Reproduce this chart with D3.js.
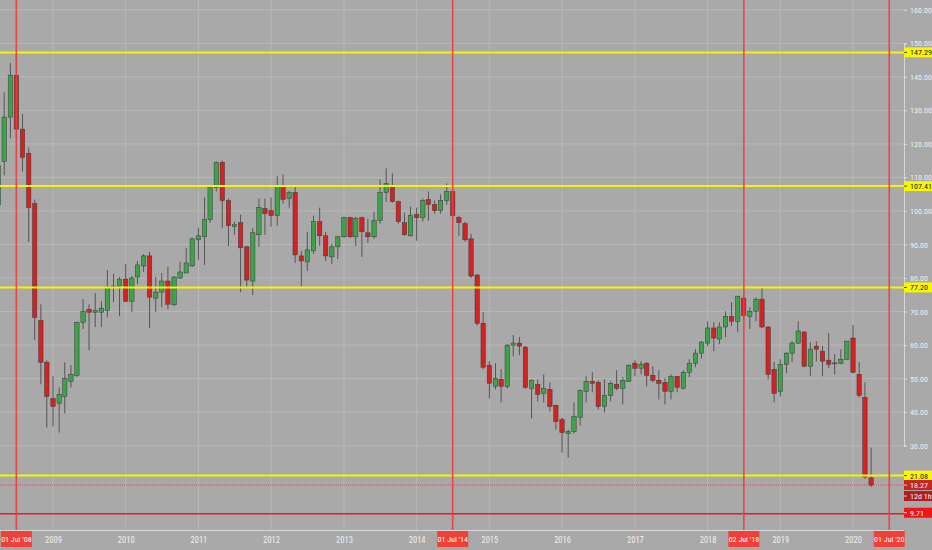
<!DOCTYPE html>
<html><head><meta charset="utf-8">
<script src="https://cdn.jsdelivr.net/npm/d3@7"></script>
<style>
html,body{margin:0;padding:0;background:#a9a9a9;overflow:hidden}
text{font-family:'Liberation Sans Narrow','Roboto Condensed',Roboto,sans-serif}
</style>
</head><body>
<svg id="chart" width="932" height="550"></svg>
<script>
// ---- data (monthly candles) ----
const months = [
"2008-04","2008-05","2008-06","2008-07","2008-08","2008-09","2008-10","2008-11","2008-12",
"2009-01","2009-02","2009-03","2009-04","2009-05","2009-06","2009-07","2009-08","2009-09","2009-10","2009-11","2009-12",
"2010-01","2010-02","2010-03","2010-04","2010-05","2010-06","2010-07","2010-08","2010-09","2010-10","2010-11","2010-12",
"2011-01","2011-02","2011-03","2011-04","2011-05","2011-06","2011-07","2011-08","2011-09","2011-10","2011-11","2011-12",
"2012-01","2012-02","2012-03","2012-04","2012-05","2012-06","2012-07","2012-08","2012-09","2012-10","2012-11","2012-12",
"2013-01","2013-02","2013-03","2013-04","2013-05","2013-06","2013-07","2013-08","2013-09","2013-10","2013-11","2013-12",
"2014-01","2014-02","2014-03","2014-04","2014-05","2014-06","2014-07","2014-08","2014-09","2014-10","2014-11","2014-12",
"2015-01","2015-02","2015-03","2015-04","2015-05","2015-06","2015-07","2015-08","2015-09","2015-10","2015-11","2015-12",
"2016-01","2016-02","2016-03","2016-04","2016-05","2016-06","2016-07","2016-08","2016-09","2016-10","2016-11","2016-12",
"2017-01","2017-02","2017-03","2017-04","2017-05","2017-06","2017-07","2017-08","2017-09","2017-10","2017-11","2017-12",
"2018-01","2018-02","2018-03","2018-04","2018-05","2018-06","2018-07","2018-08","2018-09","2018-10","2018-11","2018-12",
"2019-01","2019-02","2019-03","2019-04","2019-05","2019-06","2019-07","2019-08","2019-09","2019-10","2019-11","2019-12",
"2020-01","2020-02","2020-03","2020-04"];
const opens = [
101.8,114.8,128.0,140.5,124.4,117.2,102.2,67.4,54.9,
44.1,42.6,44.7,49.2,51.0,66.8,70.7,69.8,69.8,70.4,77.3,77.6,
79.7,73.1,80.3,83.6,86.6,74.0,75.8,79.1,72.0,80.0,81.5,83.6,
91.4,92.3,97.4,107.0,114.5,103.1,95.3,96.5,89.3,79.1,92.9,100.7,
100.1,98.6,107.3,103.7,105.5,86.6,84.8,88.1,96.8,92.6,86.3,89.3,
92.3,98.0,92.3,98.0,93.5,92.3,97.1,105.5,107.6,102.8,96.5,92.6,
98.9,98.0,103.4,101.9,100.1,103.1,105.8,98.0,96.2,91.7,80.9,66.5,
54.0,47.7,49.8,47.7,60.0,60.6,59.4,47.1,48.3,45.6,46.8,42.0,
37.8,33.6,34.2,38.4,46.2,49.2,48.9,41.7,45.0,48.3,47.1,49.2,
54.6,53.1,54.6,51.0,49.5,48.9,46.2,50.7,47.1,51.9,54.6,57.6,
60.6,65.1,61.8,65.4,68.6,67.1,74.0,68.6,70.1,73.7,65.4,52.8,
46.2,54.3,57.6,60.6,63.9,53.7,59.7,58.2,55.5,54.5,54.6,55.8,
62.1,51.3,44.4,20.4];
const highs = [
117.5,135.4,144.1,147.3,128.9,119.0,103.4,72.2,55.5,
50.7,47.4,54.9,54.0,67.0,73.7,72.2,75.5,73.1,82.4,81.2,80.3,
84.2,80.6,85.1,87.2,87.8,80.3,81.5,83.3,80.6,84.8,89.0,92.0,
95.0,104.0,107.3,114.8,115.0,103.7,96.8,98.9,89.6,95.0,103.7,103.7,
104.0,110.3,110.9,106.0,107.3,88.1,93.8,98.6,101.0,93.8,90.2,92.6,
98.3,98.3,98.3,98.3,97.7,99.8,109.4,112.7,111.2,103.1,99.5,101.3,
101.0,103.7,105.8,103.1,104.9,108.2,106.5,98.6,96.8,93.2,81.2,69.8,
55.2,54.6,52.8,60.3,63.0,62.4,59.7,49.8,49.8,51.3,48.9,42.3,
38.4,34.8,42.9,46.8,50.7,51.9,49.5,49.8,49.2,52.5,50.4,54.3,
55.5,55.2,54.9,53.7,52.5,50.1,51.3,50.7,52.5,55.8,58.8,61.2,
67.1,66.8,66.8,70.1,72.8,74.6,75.2,71.3,74.2,77.3,65.7,54.9,
55.8,57.9,61.2,67.1,64.2,60.9,61.2,59.7,63.6,57.3,58.8,61.2,
66.0,54.9,48.9,29.4];
const lows = [
100.5,110.6,121.7,121.5,111.8,90.8,61.5,48.3,35.4,
35.7,33.9,39.6,47.4,50.5,64.8,58.5,65.4,65.4,68.3,72.8,68.6,
72.8,69.8,78.2,81.8,65.0,69.8,71.3,70.7,71.6,79.7,81.5,83.3,
85.4,83.9,96.5,105.8,95.0,89.6,92.9,75.8,77.3,74.9,89.3,92.9,
95.3,95.6,102.2,101.0,84.5,77.5,82.1,87.2,89.6,85.1,84.2,85.7,
92.0,92.0,89.6,86.3,90.5,91.7,96.2,102.8,102.5,96.2,92.6,92.3,
91.1,96.8,97.1,99.2,99.2,101.9,97.7,92.6,90.8,80.0,65.8,52.8,
44.1,46.8,42.9,47.1,56.7,57.0,47.0,38.1,43.2,42.9,40.2,34.8,
27.9,26.4,33.6,36.0,42.9,45.9,40.8,39.9,43.2,46.5,42.3,49.0,
50.7,51.3,47.7,48.9,43.8,42.3,43.8,45.9,46.8,50.4,53.4,56.0,
59.7,58.2,60.3,62.4,65.7,63.9,67.5,64.8,67.1,65.1,49.8,42.9,
44.7,51.6,54.9,60.3,53.4,50.7,55.2,50.7,53.1,51.3,54.3,55.5,
51.6,44.4,20.1,17.7];
const closes = [
113.5,128.0,140.5,124.4,116.0,101.0,68.3,54.9,44.7,
41.7,45.3,50.1,51.3,66.8,70.1,69.8,70.4,71.0,77.3,77.6,79.7,
73.1,80.0,83.9,86.6,74.3,75.8,79.1,72.2,80.3,81.8,84.5,91.7,
92.6,97.4,107.0,114.5,103.1,95.6,95.9,89.0,79.4,93.5,101.0,99.2,
98.6,107.6,103.4,105.5,86.9,85.1,88.4,96.8,92.6,86.6,89.3,92.3,
98.0,92.3,97.7,93.8,92.3,97.1,105.5,108.2,102.8,96.8,92.9,98.6,
98.0,103.1,101.9,100.1,103.1,105.8,98.6,96.5,91.4,80.6,66.5,53.4,
48.6,50.1,47.7,60.0,60.6,59.7,47.4,49.5,45.3,47.1,41.7,37.2,
33.9,34.2,38.7,46.5,49.2,48.6,41.7,45.0,48.6,47.1,49.5,54.0,
53.1,54.3,51.0,49.5,48.6,46.2,50.7,47.4,51.9,54.6,57.6,60.9,
65.1,62.1,65.4,68.6,67.1,74.6,68.9,70.1,73.7,65.4,51.3,45.6,
54.3,57.6,60.6,64.2,53.7,58.8,58.8,55.2,54.3,54.7,55.8,61.2,
51.9,45.0,20.7,18.27];

const priceTicks = [30,40,50,60,70,80,90,100,110,120,130,140,150,160];
const yellowLevels = [147.29, 107.41, 77.20, 21.08];
const redLevel = 9.71;
const lastPrice = 18.27;
const countdownLabel = "12d 1h";
const markerDates = ["2008-07-01","2014-07-01","2018-07-02","2020-07-01"];
const markerLabels = ["01 Jul '08","01 Jul '14","02 Jul '18","01 Jul '20"];

// ---- layout ----
const W = 932, H = 550, plotR = 904, plotB = 530;
const parse = d3.timeParse("%Y-%m");
const parseD = d3.timeParse("%Y-%m-%d");
const svg = d3.select("#chart");

const x = d3.scaleTime()
  .domain([new Date(2009,0,1), new Date(2020,0,1)])
  .range([53, 853]);
const y = d3.scaleLinear().domain([30,150]).range([445.7, 43.3]);

svg.append("rect").attr("width",W).attr("height",H).attr("fill","#a9a9a9");

const candles = months.map((m,i)=>({d:parse(m),o:opens[i],h:highs[i],l:lows[i],c:closes[i]}));

// grid
const years = d3.timeYear.range(new Date(2009,0,1), new Date(2020,0,2));
svg.append("g").selectAll("line").data(years).join("line")
  .attr("x1",d=>x(d)).attr("x2",d=>x(d)).attr("y1",0).attr("y2",plotB)
  .attr("stroke","#b8b8b8").attr("stroke-width",1);
svg.append("g").selectAll("line").data(priceTicks).join("line")
  .attr("x1",0).attr("x2",plotR).attr("y1",d=>y(d)).attr("y2",d=>y(d))
  .attr("stroke","#b8b8b8").attr("stroke-width",1);

svg.append("defs").append("clipPath").attr("id","clip")
  .append("rect").attr("x",0).attr("y",0).attr("width",plotR).attr("height",plotB);

// candles
const cg = svg.append("g").attr("clip-path","url(#clip)");
const bw = 4.4;
cg.selectAll("line.w").data(candles).join("line").attr("class","w")
  .attr("x1",d=>x(d.d)).attr("x2",d=>x(d.d))
  .attr("y1",d=>y(d.h)).attr("y2",d=>y(d.l))
  .attr("stroke","#555").attr("stroke-width",1);
cg.selectAll("rect.b").data(candles).join("rect").attr("class","b")
  .attr("x",d=>x(d.d)-bw/2).attr("width",bw)
  .attr("y",d=>y(Math.max(d.o,d.c)))
  .attr("height",d=>Math.max(1,Math.abs(y(d.o)-y(d.c))))
  .attr("fill",d=>d.c>=d.o?"#3da34b":"#d42222")
  .attr("stroke","#3a3a3a").attr("stroke-width",0.5);

// current price line
svg.append("line").attr("x1",0).attr("x2",plotR)
  .attr("y1",y(lastPrice)).attr("y2",y(lastPrice))
  .attr("stroke","#c03030").attr("stroke-width",0.8).attr("stroke-dasharray","1,1").attr("opacity",0.8);

// horizontal levels
svg.append("g").selectAll("line").data(yellowLevels).join("line")
  .attr("x1",0).attr("x2",plotR).attr("y1",d=>y(d)).attr("y2",d=>y(d))
  .attr("stroke","#f5f500").attr("stroke-width",2);
svg.append("line").attr("x1",0).attr("x2",plotR)
  .attr("y1",y(redLevel)).attr("y2",y(redLevel))
  .attr("stroke","#f01818").attr("stroke-width",1.6);

// vertical red markers
svg.append("g").selectAll("line").data(markerDates).join("line")
  .attr("x1",d=>x(parseD(d))).attr("x2",d=>x(parseD(d)))
  .attr("y1",0).attr("y2",plotB+4)
  .attr("stroke","#f23c3c").attr("stroke-width",1.6).attr("opacity",0.9);

// axes
const ya = svg.append("g").attr("transform",`translate(${plotR},0)`)
  .call(d3.axisRight(y).tickValues(priceTicks).tickFormat(d3.format(".2f")).tickSize(3).tickPadding(3));
ya.select(".domain").attr("stroke","#d6d6d6");
ya.selectAll(".tick line").attr("stroke","#e0e0e0");
ya.selectAll("text").attr("fill","#f0f0f0").attr("font-size",8);

const xa = svg.append("g").attr("transform",`translate(0,${plotB})`)
  .call(d3.axisBottom(x).tickValues(years).tickFormat(d3.timeFormat("%Y")).tickSize(0).tickPadding(7));
xa.select(".domain").attr("stroke","#d6d6d6").attr("d",`M0,0.5H${plotR}`);
xa.selectAll("text").attr("fill","#f0f0f0").attr("font-size",8.5);

// right labels
function rLabel(v, text, bg, fg, yc){
  const g = svg.append("g").attr("transform",`translate(${plotR},${yc})`);
  g.append("rect").attr("x",0).attr("y",-5).attr("width",28).attr("height",10).attr("fill",bg);
  g.append("line").attr("x1",0).attr("x2",3).attr("y1",0).attr("y2",0).attr("stroke",fg).attr("stroke-width",0.8);
  g.append("text").attr("x",6).attr("y",3).attr("font-size",8).attr("fill",fg).text(text);
}
yellowLevels.forEach(v=>rLabel(v, v.toFixed(2), "#f7f700", "#222", y(v)));
rLabel(lastPrice, lastPrice.toFixed(2), "#c42525", "#f4f4f4", y(lastPrice));
rLabel(null, countdownLabel, "#b01e1e", "#f4f4f4", y(lastPrice)+11);
rLabel(redLevel, redLevel.toFixed(2), "#f01616", "#ffffff", y(redLevel)-1);

// bottom date labels
markerDates.forEach((d,i)=>{
  const cx = x(parseD(d));
  const g = svg.append("g").attr("transform",`translate(${cx},${plotB+1})`);
  g.append("rect").attr("x",-15.5).attr("y",0).attr("width",31).attr("height",16).attr("fill","#f0403a");
  g.append("text").attr("x",0).attr("y",11).attr("text-anchor","middle")
    .attr("font-size",8).attr("fill","#fff").text(markerLabels[i]);
});
</script>
</body></html>
